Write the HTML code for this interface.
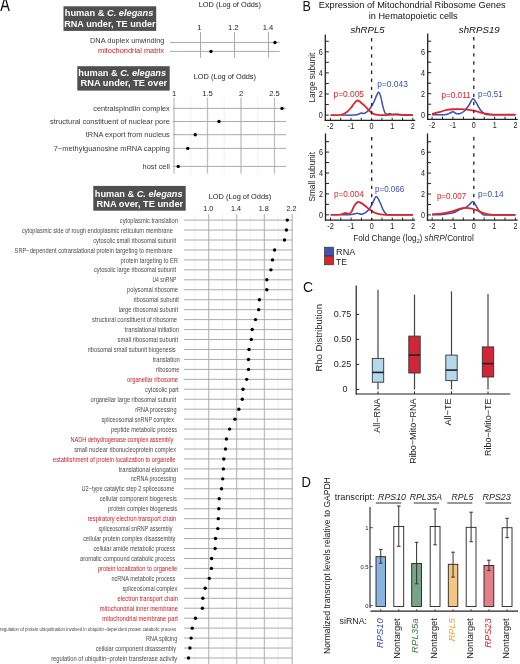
<!DOCTYPE html><html><head><meta charset="utf-8"><style>html,body{margin:0;padding:0;background:#fff;width:520px;height:664px;overflow:hidden}svg{display:block;will-change:transform;filter:blur(0.35px)}</style></head><body>
<svg width="520" height="664" viewBox="0 0 520 664" font-family='"Liberation Sans", sans-serif'>
<rect x="0" y="0" width="520" height="664" fill="#fff"/>
<text x="0.20" y="10.70" font-size="19.5" fill="#111" textLength="9.60" lengthAdjust="spacingAndGlyphs">A</text>
<rect x="63.50" y="6.30" width="92.70" height="24.60" fill="#4f4f4f" stroke="none" stroke-width="1"/>
<text x="64.80" y="15.90" font-size="9.26" fill="#fff" font-weight="bold" textLength="88.50" lengthAdjust="spacingAndGlyphs">human &amp; <tspan font-style="italic">C. elegans</tspan></text>
<text x="64.20" y="26.50" font-size="9.12" fill="#fff" font-weight="bold" textLength="91.40" lengthAdjust="spacingAndGlyphs">RNA under, TE under</text>
<rect x="77.30" y="66.20" width="92.40" height="24.40" fill="#4f4f4f" stroke="none" stroke-width="1"/>
<text x="78.30" y="75.75" font-size="9.19" fill="#fff" font-weight="bold" textLength="87.80" lengthAdjust="spacingAndGlyphs">human &amp; <tspan font-style="italic">C. elegans</tspan></text>
<text x="80.50" y="86.30" font-size="9.27" fill="#fff" font-weight="bold" textLength="86.70" lengthAdjust="spacingAndGlyphs">RNA under, TE over</text>
<rect x="93.30" y="185.90" width="92.40" height="24.80" fill="#4f4f4f" stroke="none" stroke-width="1"/>
<text x="94.80" y="196.50" font-size="9.19" fill="#fff" font-weight="bold" textLength="87.80" lengthAdjust="spacingAndGlyphs">human &amp; <tspan font-style="italic">C. elegans</tspan></text>
<text x="96.50" y="206.90" font-size="9.27" fill="#fff" font-weight="bold" textLength="86.70" lengthAdjust="spacingAndGlyphs">RNA over, TE under</text>
<text x="198.75" y="6.60" font-size="7.37" fill="#222" textLength="62.25" lengthAdjust="spacingAndGlyphs">LOD (Log of Odds)</text>
<text x="199.30" y="29.50" font-size="7.6" fill="#222" text-anchor="middle">1</text>
<text x="233.20" y="29.50" font-size="7.6" fill="#222" text-anchor="middle">1.2</text>
<text x="268.00" y="29.50" font-size="7.6" fill="#222" text-anchor="middle">1.4</text>
<line x1="200.50" y1="32.00" x2="200.50" y2="57.70" stroke="#ababab" stroke-width="1"/>
<line x1="234.50" y1="32.00" x2="234.50" y2="57.70" stroke="#ababab" stroke-width="1"/>
<line x1="268.50" y1="32.00" x2="268.50" y2="57.70" stroke="#ababab" stroke-width="1"/>
<line x1="170.00" y1="42.50" x2="279.50" y2="42.50" stroke="#ababab" stroke-width="1"/>
<line x1="170.00" y1="51.40" x2="279.50" y2="51.40" stroke="#ababab" stroke-width="1"/>
<text x="164.50" y="43.30" font-size="7.4" fill="#3a3a3a" text-anchor="end" textLength="74.50" lengthAdjust="spacingAndGlyphs">DNA duplex unwinding</text>
<text x="164.00" y="53.40" font-size="7.38" fill="#c8202a" text-anchor="end" textLength="66.00" lengthAdjust="spacingAndGlyphs">mitochondrial matrix</text>
<circle cx="275.00" cy="42.50" r="1.7" fill="#000"/>
<circle cx="211.00" cy="51.40" r="1.7" fill="#000"/>
<text x="193.75" y="79.20" font-size="7.37" fill="#222" textLength="62.25" lengthAdjust="spacingAndGlyphs">LOD (Log of Odds)</text>
<text x="174.00" y="95.50" font-size="7.6" fill="#222" text-anchor="middle">1</text>
<text x="207.50" y="95.50" font-size="7.6" fill="#222" text-anchor="middle">1.5</text>
<text x="241.00" y="95.50" font-size="7.6" fill="#222" text-anchor="middle">2</text>
<text x="274.50" y="95.50" font-size="7.6" fill="#222" text-anchor="middle">2.5</text>
<line x1="190.80" y1="97.50" x2="190.80" y2="173.80" stroke="#f2f2f2" stroke-width="1"/>
<line x1="224.20" y1="97.50" x2="224.20" y2="173.80" stroke="#f2f2f2" stroke-width="1"/>
<line x1="257.70" y1="97.50" x2="257.70" y2="173.80" stroke="#f2f2f2" stroke-width="1"/>
<line x1="174.00" y1="97.50" x2="174.00" y2="173.80" stroke="#bfbfbf" stroke-width="1.3"/>
<line x1="207.50" y1="97.50" x2="207.50" y2="173.80" stroke="#bfbfbf" stroke-width="1.3"/>
<line x1="241.00" y1="97.50" x2="241.00" y2="173.80" stroke="#bfbfbf" stroke-width="1.3"/>
<line x1="274.50" y1="97.50" x2="274.50" y2="173.80" stroke="#bfbfbf" stroke-width="1.3"/>
<line x1="172.70" y1="108.40" x2="286.00" y2="108.40" stroke="#ababab" stroke-width="1"/>
<line x1="172.70" y1="121.50" x2="286.00" y2="121.50" stroke="#ababab" stroke-width="1"/>
<line x1="172.70" y1="134.70" x2="286.00" y2="134.70" stroke="#ababab" stroke-width="1"/>
<line x1="172.70" y1="148.40" x2="286.00" y2="148.40" stroke="#ababab" stroke-width="1"/>
<line x1="172.70" y1="166.40" x2="286.00" y2="166.40" stroke="#ababab" stroke-width="1"/>
<text x="169.80" y="110.80" font-size="7.37" fill="#3a3a3a" text-anchor="end" textLength="76.55" lengthAdjust="spacingAndGlyphs">centralspindlin complex</text>
<circle cx="282.00" cy="108.40" r="1.7" fill="#000"/>
<text x="169.80" y="123.90" font-size="7.41" fill="#3a3a3a" text-anchor="end" textLength="119.80" lengthAdjust="spacingAndGlyphs">structural constituent of nuclear pore</text>
<circle cx="219.00" cy="121.50" r="1.7" fill="#000"/>
<text x="169.80" y="137.10" font-size="7.38" fill="#3a3a3a" text-anchor="end" textLength="84.05" lengthAdjust="spacingAndGlyphs">tRNA export from nucleus</text>
<circle cx="195.25" cy="134.70" r="1.7" fill="#000"/>
<text x="169.80" y="150.80" font-size="7.42" fill="#3a3a3a" text-anchor="end" textLength="116.05" lengthAdjust="spacingAndGlyphs">7−methylguanosine mRNA capping</text>
<circle cx="187.75" cy="148.40" r="1.7" fill="#000"/>
<text x="169.80" y="168.80" font-size="7.44" fill="#3a3a3a" text-anchor="end" textLength="27.30" lengthAdjust="spacingAndGlyphs">host cell</text>
<circle cx="178.25" cy="166.40" r="1.7" fill="#000"/>
<text x="208.75" y="199.20" font-size="7.4" fill="#222" textLength="62.50" lengthAdjust="spacingAndGlyphs">LOD (Log of Odds)</text>
<text x="208.20" y="211.00" font-size="7.2" fill="#222" text-anchor="middle">1.0</text>
<text x="236.10" y="211.00" font-size="7.2" fill="#222" text-anchor="middle">1.4</text>
<text x="263.80" y="211.00" font-size="7.2" fill="#222" text-anchor="middle">1.8</text>
<text x="291.50" y="211.00" font-size="7.2" fill="#222" text-anchor="middle">2.2</text>
<line x1="194.80" y1="214.00" x2="194.80" y2="664.00" stroke="#f2f2f2" stroke-width="1"/>
<line x1="222.60" y1="214.00" x2="222.60" y2="664.00" stroke="#f2f2f2" stroke-width="1"/>
<line x1="250.50" y1="214.00" x2="250.50" y2="664.00" stroke="#f2f2f2" stroke-width="1"/>
<line x1="278.30" y1="214.00" x2="278.30" y2="664.00" stroke="#f2f2f2" stroke-width="1"/>
<line x1="208.70" y1="214.00" x2="208.70" y2="664.00" stroke="#bfbfbf" stroke-width="1.3"/>
<line x1="236.60" y1="214.00" x2="236.60" y2="664.00" stroke="#bfbfbf" stroke-width="1.3"/>
<line x1="264.40" y1="214.00" x2="264.40" y2="664.00" stroke="#bfbfbf" stroke-width="1.3"/>
<line x1="292.20" y1="214.00" x2="292.20" y2="664.00" stroke="#bfbfbf" stroke-width="1.3"/>
<line x1="184.00" y1="220.10" x2="292.50" y2="220.10" stroke="#ababab" stroke-width="1"/>
<line x1="184.00" y1="230.05" x2="292.50" y2="230.05" stroke="#ababab" stroke-width="1"/>
<line x1="184.00" y1="240.00" x2="292.50" y2="240.00" stroke="#ababab" stroke-width="1"/>
<line x1="184.00" y1="249.96" x2="292.50" y2="249.96" stroke="#ababab" stroke-width="1"/>
<line x1="184.00" y1="259.91" x2="292.50" y2="259.91" stroke="#ababab" stroke-width="1"/>
<line x1="184.00" y1="269.86" x2="292.50" y2="269.86" stroke="#ababab" stroke-width="1"/>
<line x1="184.00" y1="279.81" x2="292.50" y2="279.81" stroke="#ababab" stroke-width="1"/>
<line x1="184.00" y1="289.76" x2="292.50" y2="289.76" stroke="#ababab" stroke-width="1"/>
<line x1="184.00" y1="299.72" x2="292.50" y2="299.72" stroke="#ababab" stroke-width="1"/>
<line x1="184.00" y1="309.67" x2="292.50" y2="309.67" stroke="#ababab" stroke-width="1"/>
<line x1="184.00" y1="319.62" x2="292.50" y2="319.62" stroke="#ababab" stroke-width="1"/>
<line x1="184.00" y1="329.57" x2="292.50" y2="329.57" stroke="#ababab" stroke-width="1"/>
<line x1="184.00" y1="339.52" x2="292.50" y2="339.52" stroke="#ababab" stroke-width="1"/>
<line x1="184.00" y1="349.48" x2="292.50" y2="349.48" stroke="#ababab" stroke-width="1"/>
<line x1="184.00" y1="359.43" x2="292.50" y2="359.43" stroke="#ababab" stroke-width="1"/>
<line x1="184.00" y1="369.38" x2="292.50" y2="369.38" stroke="#ababab" stroke-width="1"/>
<line x1="184.00" y1="379.33" x2="292.50" y2="379.33" stroke="#ababab" stroke-width="1"/>
<line x1="184.00" y1="389.28" x2="292.50" y2="389.28" stroke="#ababab" stroke-width="1"/>
<line x1="184.00" y1="399.24" x2="292.50" y2="399.24" stroke="#ababab" stroke-width="1"/>
<line x1="184.00" y1="409.19" x2="292.50" y2="409.19" stroke="#ababab" stroke-width="1"/>
<line x1="184.00" y1="419.14" x2="292.50" y2="419.14" stroke="#ababab" stroke-width="1"/>
<line x1="184.00" y1="429.09" x2="292.50" y2="429.09" stroke="#ababab" stroke-width="1"/>
<line x1="184.00" y1="439.04" x2="292.50" y2="439.04" stroke="#ababab" stroke-width="1"/>
<line x1="184.00" y1="449.00" x2="292.50" y2="449.00" stroke="#ababab" stroke-width="1"/>
<line x1="184.00" y1="458.95" x2="292.50" y2="458.95" stroke="#ababab" stroke-width="1"/>
<line x1="184.00" y1="468.90" x2="292.50" y2="468.90" stroke="#ababab" stroke-width="1"/>
<line x1="184.00" y1="478.85" x2="292.50" y2="478.85" stroke="#ababab" stroke-width="1"/>
<line x1="184.00" y1="488.80" x2="292.50" y2="488.80" stroke="#ababab" stroke-width="1"/>
<line x1="184.00" y1="498.76" x2="292.50" y2="498.76" stroke="#ababab" stroke-width="1"/>
<line x1="184.00" y1="508.71" x2="292.50" y2="508.71" stroke="#ababab" stroke-width="1"/>
<line x1="184.00" y1="518.66" x2="292.50" y2="518.66" stroke="#ababab" stroke-width="1"/>
<line x1="184.00" y1="528.61" x2="292.50" y2="528.61" stroke="#ababab" stroke-width="1"/>
<line x1="184.00" y1="538.56" x2="292.50" y2="538.56" stroke="#ababab" stroke-width="1"/>
<line x1="184.00" y1="548.52" x2="292.50" y2="548.52" stroke="#ababab" stroke-width="1"/>
<line x1="184.00" y1="558.47" x2="292.50" y2="558.47" stroke="#ababab" stroke-width="1"/>
<line x1="184.00" y1="568.42" x2="292.50" y2="568.42" stroke="#ababab" stroke-width="1"/>
<line x1="184.00" y1="578.37" x2="292.50" y2="578.37" stroke="#ababab" stroke-width="1"/>
<line x1="184.00" y1="588.32" x2="292.50" y2="588.32" stroke="#ababab" stroke-width="1"/>
<line x1="184.00" y1="598.28" x2="292.50" y2="598.28" stroke="#ababab" stroke-width="1"/>
<line x1="184.00" y1="608.23" x2="292.50" y2="608.23" stroke="#ababab" stroke-width="1"/>
<line x1="184.00" y1="618.18" x2="292.50" y2="618.18" stroke="#ababab" stroke-width="1"/>
<line x1="184.00" y1="628.13" x2="292.50" y2="628.13" stroke="#ababab" stroke-width="1"/>
<line x1="184.00" y1="638.08" x2="292.50" y2="638.08" stroke="#ababab" stroke-width="1"/>
<line x1="184.00" y1="648.04" x2="292.50" y2="648.04" stroke="#ababab" stroke-width="1"/>
<line x1="184.00" y1="657.99" x2="292.50" y2="657.99" stroke="#ababab" stroke-width="1"/>
<text x="178.00" y="222.70" font-size="6.6" fill="#4a4a4a" text-anchor="end" textLength="58.20" lengthAdjust="spacingAndGlyphs">cytoplasmic translation</text>
<circle cx="287.30" cy="220.10" r="1.7" fill="#000"/>
<text x="172.80" y="232.65" font-size="6.6" fill="#4a4a4a" text-anchor="end" textLength="150.90" lengthAdjust="spacingAndGlyphs">cytoplasmic side of rough endoplasmic reticulum membrane</text>
<circle cx="286.40" cy="230.05" r="1.7" fill="#000"/>
<text x="176.00" y="242.60" font-size="6.6" fill="#4a4a4a" text-anchor="end" textLength="82.80" lengthAdjust="spacingAndGlyphs">cytosolic small ribosomal subunit</text>
<circle cx="284.50" cy="240.00" r="1.7" fill="#000"/>
<text x="172.80" y="252.56" font-size="6.6" fill="#4a4a4a" text-anchor="end" textLength="158.20" lengthAdjust="spacingAndGlyphs">SRP−dependent cotranslational protein targeting to membrane</text>
<circle cx="274.60" cy="249.96" r="1.7" fill="#000"/>
<text x="178.00" y="262.51" font-size="6.6" fill="#4a4a4a" text-anchor="end" textLength="57.40" lengthAdjust="spacingAndGlyphs">protein targeting to ER</text>
<circle cx="272.50" cy="259.91" r="1.7" fill="#000"/>
<text x="176.00" y="272.46" font-size="6.6" fill="#4a4a4a" text-anchor="end" textLength="82.10" lengthAdjust="spacingAndGlyphs">cytosolic large ribosomal subunit</text>
<circle cx="270.90" cy="269.86" r="1.7" fill="#000"/>
<text x="176.50" y="282.41" font-size="6.6" fill="#4a4a4a" text-anchor="end" textLength="24.10" lengthAdjust="spacingAndGlyphs">U4 snRNP</text>
<circle cx="266.80" cy="279.81" r="1.7" fill="#000"/>
<text x="178.00" y="292.36" font-size="6.6" fill="#4a4a4a" text-anchor="end" textLength="50.90" lengthAdjust="spacingAndGlyphs">polysomal ribosome</text>
<circle cx="266.80" cy="289.76" r="1.7" fill="#000"/>
<text x="179.00" y="302.32" font-size="6.6" fill="#4a4a4a" text-anchor="end" textLength="45.60" lengthAdjust="spacingAndGlyphs">ribosomal subunit</text>
<circle cx="259.40" cy="299.72" r="1.7" fill="#000"/>
<text x="178.00" y="312.27" font-size="6.6" fill="#4a4a4a" text-anchor="end" textLength="59.30" lengthAdjust="spacingAndGlyphs">large ribosomal subunit</text>
<circle cx="258.70" cy="309.67" r="1.7" fill="#000"/>
<text x="177.00" y="322.22" font-size="6.6" fill="#4a4a4a" text-anchor="end" textLength="85.00" lengthAdjust="spacingAndGlyphs">structural constituent of ribosome</text>
<circle cx="255.50" cy="319.62" r="1.7" fill="#000"/>
<text x="179.00" y="332.17" font-size="6.6" fill="#4a4a4a" text-anchor="end" textLength="54.40" lengthAdjust="spacingAndGlyphs">translational initiation</text>
<circle cx="252.20" cy="329.57" r="1.7" fill="#000"/>
<text x="178.00" y="342.12" font-size="6.6" fill="#4a4a4a" text-anchor="end" textLength="60.40" lengthAdjust="spacingAndGlyphs">small ribosomal subunit</text>
<circle cx="251.30" cy="339.52" r="1.7" fill="#000"/>
<text x="175.70" y="352.08" font-size="6.6" fill="#4a4a4a" text-anchor="end" textLength="88.00" lengthAdjust="spacingAndGlyphs">ribosomal small subunit biogenesis</text>
<circle cx="249.00" cy="349.48" r="1.7" fill="#000"/>
<text x="179.80" y="362.03" font-size="6.6" fill="#4a4a4a" text-anchor="end" textLength="27.10" lengthAdjust="spacingAndGlyphs">translation</text>
<circle cx="248.50" cy="359.43" r="1.7" fill="#000"/>
<text x="179.40" y="371.98" font-size="6.6" fill="#4a4a4a" text-anchor="end" textLength="23.40" lengthAdjust="spacingAndGlyphs">ribosome</text>
<circle cx="248.50" cy="369.38" r="1.7" fill="#000"/>
<text x="178.00" y="381.93" font-size="6.6" fill="#c8202a" text-anchor="end" textLength="50.90" lengthAdjust="spacingAndGlyphs">organellar ribosome</text>
<circle cx="246.70" cy="379.33" r="1.7" fill="#000"/>
<text x="178.70" y="391.88" font-size="6.6" fill="#4a4a4a" text-anchor="end" textLength="33.70" lengthAdjust="spacingAndGlyphs">cytosolic part</text>
<circle cx="243.00" cy="389.28" r="1.7" fill="#000"/>
<text x="176.10" y="401.84" font-size="6.6" fill="#4a4a4a" text-anchor="end" textLength="85.50" lengthAdjust="spacingAndGlyphs">organellar large ribosomal subunit</text>
<circle cx="242.30" cy="399.24" r="1.7" fill="#000"/>
<text x="176.50" y="411.79" font-size="6.6" fill="#4a4a4a" text-anchor="end" textLength="41.30" lengthAdjust="spacingAndGlyphs">rRNA processing</text>
<circle cx="238.80" cy="409.19" r="1.7" fill="#000"/>
<text x="173.90" y="421.74" font-size="6.6" fill="#4a4a4a" text-anchor="end" textLength="72.30" lengthAdjust="spacingAndGlyphs">spliceosomal snRNP complex</text>
<circle cx="234.90" cy="419.14" r="1.7" fill="#000"/>
<text x="177.20" y="431.69" font-size="6.6" fill="#4a4a4a" text-anchor="end" textLength="66.20" lengthAdjust="spacingAndGlyphs">peptide metabolic process</text>
<circle cx="229.60" cy="429.09" r="1.7" fill="#000"/>
<text x="173.20" y="441.64" font-size="6.6" fill="#c8202a" text-anchor="end" textLength="102.70" lengthAdjust="spacingAndGlyphs">NADH dehydrogenase complex assembly</text>
<circle cx="226.40" cy="439.04" r="1.7" fill="#000"/>
<text x="176.10" y="451.60" font-size="6.6" fill="#4a4a4a" text-anchor="end" textLength="101.90" lengthAdjust="spacingAndGlyphs">small nuclear ribonucleoprotein complex</text>
<circle cx="225.50" cy="449.00" r="1.7" fill="#000"/>
<text x="175.40" y="461.55" font-size="6.6" fill="#c8202a" text-anchor="end" textLength="122.40" lengthAdjust="spacingAndGlyphs">establishment of protein localization to organelle</text>
<circle cx="223.80" cy="458.95" r="1.7" fill="#000"/>
<text x="178.30" y="471.50" font-size="6.6" fill="#4a4a4a" text-anchor="end" textLength="59.60" lengthAdjust="spacingAndGlyphs">translational elongation</text>
<circle cx="223.40" cy="468.90" r="1.7" fill="#000"/>
<text x="176.10" y="481.45" font-size="6.6" fill="#4a4a4a" text-anchor="end" textLength="45.30" lengthAdjust="spacingAndGlyphs">ncRNA processing</text>
<circle cx="222.70" cy="478.85" r="1.7" fill="#000"/>
<text x="174.30" y="491.40" font-size="6.6" fill="#4a4a4a" text-anchor="end" textLength="92.80" lengthAdjust="spacingAndGlyphs">U2−type catalytic step 2 spliceosome</text>
<circle cx="221.50" cy="488.80" r="1.7" fill="#000"/>
<text x="176.80" y="501.36" font-size="6.6" fill="#4a4a4a" text-anchor="end" textLength="77.10" lengthAdjust="spacingAndGlyphs">cellular component biogenesis</text>
<circle cx="219.20" cy="498.76" r="1.7" fill="#000"/>
<text x="177.20" y="511.31" font-size="6.6" fill="#4a4a4a" text-anchor="end" textLength="69.10" lengthAdjust="spacingAndGlyphs">protein complex biogenesis</text>
<circle cx="218.80" cy="508.71" r="1.7" fill="#000"/>
<text x="176.10" y="521.26" font-size="6.6" fill="#c8202a" text-anchor="end" textLength="88.40" lengthAdjust="spacingAndGlyphs">respiratory electron transport chain</text>
<circle cx="218.30" cy="518.66" r="1.7" fill="#000"/>
<text x="172.50" y="531.21" font-size="6.6" fill="#4a4a4a" text-anchor="end" textLength="73.90" lengthAdjust="spacingAndGlyphs">spliceosomal snRNP assembly</text>
<circle cx="217.80" cy="528.61" r="1.7" fill="#000"/>
<text x="175.40" y="541.16" font-size="6.6" fill="#4a4a4a" text-anchor="end" textLength="92.10" lengthAdjust="spacingAndGlyphs">cellular protein complex disassembly</text>
<circle cx="215.50" cy="538.56" r="1.7" fill="#000"/>
<text x="175.40" y="551.12" font-size="6.6" fill="#4a4a4a" text-anchor="end" textLength="81.90" lengthAdjust="spacingAndGlyphs">cellular amide metabolic process</text>
<circle cx="215.10" cy="548.52" r="1.7" fill="#000"/>
<text x="175.00" y="561.07" font-size="6.6" fill="#4a4a4a" text-anchor="end" textLength="95.00" lengthAdjust="spacingAndGlyphs">aromatic compound catabolic process</text>
<circle cx="211.60" cy="558.47" r="1.7" fill="#000"/>
<text x="177.20" y="571.02" font-size="6.6" fill="#c8202a" text-anchor="end" textLength="79.30" lengthAdjust="spacingAndGlyphs">protein localization to organelle</text>
<circle cx="211.40" cy="568.42" r="1.7" fill="#000"/>
<text x="175.40" y="580.97" font-size="6.6" fill="#4a4a4a" text-anchor="end" textLength="64.00" lengthAdjust="spacingAndGlyphs">ncRNA metabolic process</text>
<circle cx="209.30" cy="578.37" r="1.7" fill="#000"/>
<text x="177.20" y="590.92" font-size="6.6" fill="#4a4a4a" text-anchor="end" textLength="54.80" lengthAdjust="spacingAndGlyphs">spliceosomal complex</text>
<circle cx="205.20" cy="588.32" r="1.7" fill="#000"/>
<text x="178.00" y="600.88" font-size="6.6" fill="#c8202a" text-anchor="end" textLength="60.40" lengthAdjust="spacingAndGlyphs">electron transport chain</text>
<circle cx="202.80" cy="598.28" r="1.7" fill="#000"/>
<text x="178.00" y="610.83" font-size="6.6" fill="#c8202a" text-anchor="end" textLength="78.30" lengthAdjust="spacingAndGlyphs">mitochondrial inner membrane</text>
<circle cx="202.40" cy="608.23" r="1.7" fill="#000"/>
<text x="178.00" y="620.78" font-size="6.6" fill="#c8202a" text-anchor="end" textLength="75.70" lengthAdjust="spacingAndGlyphs">mitochondrial membrane part</text>
<circle cx="195.50" cy="618.18" r="1.7" fill="#000"/>
<text x="176.10" y="630.73" font-size="5.0" fill="#4a4a4a" text-anchor="end" textLength="176.10" lengthAdjust="spacingAndGlyphs">regulation of protein ubiquitination involved in ubiquitin−dependent protein catabolic process</text>
<circle cx="192.20" cy="628.13" r="1.7" fill="#000"/>
<text x="177.20" y="640.68" font-size="6.6" fill="#4a4a4a" text-anchor="end" textLength="31.10" lengthAdjust="spacingAndGlyphs">RNA splicing</text>
<circle cx="191.10" cy="638.08" r="1.7" fill="#000"/>
<text x="176.10" y="650.64" font-size="6.6" fill="#4a4a4a" text-anchor="end" textLength="80.40" lengthAdjust="spacingAndGlyphs">cellular component disassembly</text>
<circle cx="189.90" cy="648.04" r="1.7" fill="#000"/>
<text x="177.20" y="660.59" font-size="6.6" fill="#4a4a4a" text-anchor="end" textLength="126.00" lengthAdjust="spacingAndGlyphs">regulation of ubiquitin−protein transferase activity</text>
<circle cx="188.50" cy="657.99" r="1.7" fill="#000"/>
<text x="302.40" y="10.70" font-size="15.0" fill="#111" textLength="8.40" lengthAdjust="spacingAndGlyphs">B</text>
<text x="318.80" y="8.20" font-size="9.58" fill="#111" textLength="186.90" lengthAdjust="spacingAndGlyphs">Expression of Mitochondrial Ribosome Genes</text>
<text x="368.80" y="19.30" font-size="9.51" fill="#111" textLength="88.90" lengthAdjust="spacingAndGlyphs">in Hematopoietic cells</text>
<text x="350.50" y="33.30" font-size="9.4" fill="#111" font-style="italic" textLength="34.10" lengthAdjust="spacingAndGlyphs">shRPL5</text>
<text x="458.80" y="33.30" font-size="9.4" fill="#111" font-style="italic" textLength="40.90" lengthAdjust="spacingAndGlyphs">shRPS19</text>
<path d="M340.70,115.10 C342.76,115.10 350.14,115.24 353.06,115.10 C355.98,114.96 356.84,114.61 358.21,114.26 C359.58,113.90 360.44,113.11 361.30,112.99 C362.16,112.87 362.67,113.52 363.36,113.52 C364.05,113.52 364.39,113.69 365.42,112.99 C366.45,112.29 368.17,111.06 369.54,109.30 C370.91,107.54 372.46,104.81 373.66,102.44 C374.86,100.07 375.89,96.73 376.75,95.05 C377.61,93.38 378.12,92.07 378.81,92.42 C379.50,92.77 380.18,94.79 380.87,97.16 C381.56,99.54 382.24,104.02 382.93,106.66 C383.62,109.30 384.30,111.72 384.99,112.99 C385.68,114.26 386.26,114.17 387.05,114.26 C387.84,114.34 388.87,113.46 389.73,113.52 C390.59,113.57 390.76,114.36 392.20,114.57 C393.64,114.78 394.95,114.70 398.38,114.78 C401.81,114.87 410.40,115.05 412.80,115.10" fill="none" stroke="#3a4fb0" stroke-width="1.5" stroke-linejoin="round"/>
<path d="M330.40,115.10 C331.77,115.10 336.58,115.24 338.64,115.10 C340.70,114.96 341.39,114.78 342.76,114.26 C344.13,113.73 345.51,113.03 346.88,111.93 C348.25,110.84 349.80,109.12 351.00,107.71 C352.20,106.31 353.06,104.69 354.09,103.49 C355.12,102.30 356.15,100.80 357.18,100.54 C358.21,100.28 359.07,101.07 360.27,101.91 C361.47,102.76 363.02,104.29 364.39,105.60 C365.76,106.92 367.14,108.51 368.51,109.82 C369.88,111.14 371.08,112.67 372.63,113.52 C374.18,114.36 375.55,114.63 377.78,114.89 C380.01,115.15 383.62,115.14 386.02,115.10 C388.42,115.06 390.48,114.85 392.20,114.68 C393.92,114.50 394.95,114.04 396.32,114.04 C397.69,114.04 398.72,114.50 400.44,114.68 C402.16,114.85 404.56,115.03 406.62,115.10 C408.68,115.17 411.77,115.10 412.80,115.10" fill="none" stroke="#d8262e" stroke-width="1.8" stroke-linejoin="round"/>
<line x1="371.60" y1="38.10" x2="371.60" y2="120.40" stroke="#222" stroke-width="1.3" stroke-dasharray="3.4,4.7"/>
<line x1="325.30" y1="34.50" x2="325.30" y2="121.00" stroke="#222" stroke-width="1.3"/>
<line x1="324.70" y1="120.40" x2="415.20" y2="120.40" stroke="#222" stroke-width="1.3"/>
<line x1="325.30" y1="115.10" x2="328.80" y2="115.10" stroke="#222" stroke-width="1"/>
<line x1="325.30" y1="104.55" x2="328.80" y2="104.55" stroke="#222" stroke-width="1"/>
<line x1="325.30" y1="94.00" x2="328.80" y2="94.00" stroke="#222" stroke-width="1"/>
<line x1="325.30" y1="83.45" x2="328.80" y2="83.45" stroke="#222" stroke-width="1"/>
<line x1="325.30" y1="72.90" x2="328.80" y2="72.90" stroke="#222" stroke-width="1"/>
<line x1="325.30" y1="62.35" x2="328.80" y2="62.35" stroke="#222" stroke-width="1"/>
<line x1="325.30" y1="51.80" x2="328.80" y2="51.80" stroke="#222" stroke-width="1"/>
<line x1="325.30" y1="41.25" x2="328.80" y2="41.25" stroke="#222" stroke-width="1"/>
<text x="322.70" y="118.20" font-size="8.6" fill="#222" text-anchor="end" textLength="4.00" lengthAdjust="spacingAndGlyphs">0</text>
<text x="322.70" y="97.10" font-size="8.6" fill="#222" text-anchor="end" textLength="4.00" lengthAdjust="spacingAndGlyphs">2</text>
<text x="322.70" y="76.00" font-size="8.6" fill="#222" text-anchor="end" textLength="4.00" lengthAdjust="spacingAndGlyphs">4</text>
<text x="322.70" y="54.90" font-size="8.6" fill="#222" text-anchor="end" textLength="4.00" lengthAdjust="spacingAndGlyphs">6</text>
<line x1="330.40" y1="120.40" x2="330.40" y2="117.80" stroke="#222" stroke-width="1"/>
<line x1="340.70" y1="120.40" x2="340.70" y2="117.80" stroke="#222" stroke-width="1"/>
<line x1="351.00" y1="120.40" x2="351.00" y2="117.80" stroke="#222" stroke-width="1"/>
<line x1="361.30" y1="120.40" x2="361.30" y2="117.80" stroke="#222" stroke-width="1"/>
<line x1="371.60" y1="120.40" x2="371.60" y2="117.80" stroke="#222" stroke-width="1"/>
<line x1="381.90" y1="120.40" x2="381.90" y2="117.80" stroke="#222" stroke-width="1"/>
<line x1="392.20" y1="120.40" x2="392.20" y2="117.80" stroke="#222" stroke-width="1"/>
<line x1="402.50" y1="120.40" x2="402.50" y2="117.80" stroke="#222" stroke-width="1"/>
<line x1="412.80" y1="120.40" x2="412.80" y2="117.80" stroke="#222" stroke-width="1"/>
<text x="330.40" y="129.00" font-size="8.6" fill="#222" text-anchor="middle" textLength="6.60" lengthAdjust="spacingAndGlyphs">-2</text>
<text x="351.00" y="129.00" font-size="8.6" fill="#222" text-anchor="middle" textLength="6.60" lengthAdjust="spacingAndGlyphs">-1</text>
<text x="371.60" y="129.00" font-size="8.6" fill="#222" text-anchor="middle" textLength="4.00" lengthAdjust="spacingAndGlyphs">0</text>
<text x="392.20" y="129.00" font-size="8.6" fill="#222" text-anchor="middle" textLength="4.00" lengthAdjust="spacingAndGlyphs">1</text>
<text x="412.80" y="129.00" font-size="8.6" fill="#222" text-anchor="middle" textLength="4.00" lengthAdjust="spacingAndGlyphs">2</text>
<text x="333.50" y="97.30" font-size="8.96" fill="#d8262e" textLength="30.50" lengthAdjust="spacingAndGlyphs">p=0.005</text>
<text x="377.30" y="87.00" font-size="8.96" fill="#3a4fb0" textLength="30.50" lengthAdjust="spacingAndGlyphs">p=0.043</text>
<path d="M432.10,114.70 C434.19,114.70 441.83,114.88 444.61,114.70 C447.39,114.53 447.39,114.14 448.78,113.65 C450.17,113.16 451.73,111.80 452.95,111.76 C454.17,111.73 454.86,113.16 456.08,113.44 C457.29,113.72 458.86,113.84 460.25,113.44 C461.64,113.04 463.03,112.30 464.42,111.03 C465.81,109.75 467.20,107.79 468.59,105.78 C469.98,103.76 471.54,99.56 472.76,98.95 C473.97,98.34 474.67,100.35 475.88,102.10 C477.10,103.85 478.67,107.53 480.06,109.45 C481.44,111.38 482.66,112.78 484.23,113.65 C485.79,114.53 484.23,114.53 489.44,114.70 C494.65,114.88 511.16,114.70 515.50,114.70" fill="none" stroke="#3a4fb0" stroke-width="1.5" stroke-linejoin="round"/>
<path d="M432.10,113.97 C433.49,113.60 438.01,112.43 440.44,111.76 C442.87,111.09 444.61,110.40 446.69,109.98 C448.78,109.56 450.52,109.38 452.95,109.24 C455.38,109.10 458.86,109.07 461.29,109.14 C463.72,109.20 465.46,109.40 467.55,109.66 C469.63,109.92 471.89,110.31 473.80,110.71 C475.71,111.11 477.27,111.62 479.01,112.08 C480.75,112.53 482.31,113.07 484.23,113.44 C486.14,113.81 488.05,114.09 490.48,114.28 C492.91,114.47 494.65,114.53 498.82,114.59 C502.99,114.66 512.72,114.68 515.50,114.70" fill="none" stroke="#d8262e" stroke-width="1.8" stroke-linejoin="round"/>
<line x1="473.80" y1="37.00" x2="473.80" y2="119.30" stroke="#222" stroke-width="1.3" stroke-dasharray="3.4,4.7"/>
<line x1="427.70" y1="33.40" x2="427.70" y2="119.90" stroke="#222" stroke-width="1.3"/>
<line x1="427.10" y1="119.30" x2="517.70" y2="119.30" stroke="#222" stroke-width="1.3"/>
<line x1="427.70" y1="114.70" x2="431.20" y2="114.70" stroke="#222" stroke-width="1"/>
<line x1="427.70" y1="104.20" x2="431.20" y2="104.20" stroke="#222" stroke-width="1"/>
<line x1="427.70" y1="93.70" x2="431.20" y2="93.70" stroke="#222" stroke-width="1"/>
<line x1="427.70" y1="83.20" x2="431.20" y2="83.20" stroke="#222" stroke-width="1"/>
<line x1="427.70" y1="72.70" x2="431.20" y2="72.70" stroke="#222" stroke-width="1"/>
<line x1="427.70" y1="62.20" x2="431.20" y2="62.20" stroke="#222" stroke-width="1"/>
<line x1="427.70" y1="51.70" x2="431.20" y2="51.70" stroke="#222" stroke-width="1"/>
<line x1="427.70" y1="41.20" x2="431.20" y2="41.20" stroke="#222" stroke-width="1"/>
<text x="425.10" y="117.80" font-size="8.6" fill="#222" text-anchor="end" textLength="4.00" lengthAdjust="spacingAndGlyphs">0</text>
<text x="425.10" y="96.80" font-size="8.6" fill="#222" text-anchor="end" textLength="4.00" lengthAdjust="spacingAndGlyphs">2</text>
<text x="425.10" y="75.80" font-size="8.6" fill="#222" text-anchor="end" textLength="4.00" lengthAdjust="spacingAndGlyphs">4</text>
<text x="425.10" y="54.80" font-size="8.6" fill="#222" text-anchor="end" textLength="4.00" lengthAdjust="spacingAndGlyphs">6</text>
<line x1="432.10" y1="119.30" x2="432.10" y2="116.70" stroke="#222" stroke-width="1"/>
<line x1="442.53" y1="119.30" x2="442.53" y2="116.70" stroke="#222" stroke-width="1"/>
<line x1="452.95" y1="119.30" x2="452.95" y2="116.70" stroke="#222" stroke-width="1"/>
<line x1="463.38" y1="119.30" x2="463.38" y2="116.70" stroke="#222" stroke-width="1"/>
<line x1="473.80" y1="119.30" x2="473.80" y2="116.70" stroke="#222" stroke-width="1"/>
<line x1="484.23" y1="119.30" x2="484.23" y2="116.70" stroke="#222" stroke-width="1"/>
<line x1="494.65" y1="119.30" x2="494.65" y2="116.70" stroke="#222" stroke-width="1"/>
<line x1="505.07" y1="119.30" x2="505.07" y2="116.70" stroke="#222" stroke-width="1"/>
<line x1="515.50" y1="119.30" x2="515.50" y2="116.70" stroke="#222" stroke-width="1"/>
<text x="432.10" y="127.90" font-size="8.6" fill="#222" text-anchor="middle" textLength="6.60" lengthAdjust="spacingAndGlyphs">-2</text>
<text x="452.95" y="127.90" font-size="8.6" fill="#222" text-anchor="middle" textLength="6.60" lengthAdjust="spacingAndGlyphs">-1</text>
<text x="473.80" y="127.90" font-size="8.6" fill="#222" text-anchor="middle" textLength="4.00" lengthAdjust="spacingAndGlyphs">0</text>
<text x="494.65" y="127.90" font-size="8.6" fill="#222" text-anchor="middle" textLength="4.00" lengthAdjust="spacingAndGlyphs">1</text>
<text x="515.50" y="127.90" font-size="8.6" fill="#222" text-anchor="middle" textLength="4.00" lengthAdjust="spacingAndGlyphs">2</text>
<text x="441.40" y="98.00" font-size="8.79" fill="#d8262e" textLength="29.30" lengthAdjust="spacingAndGlyphs">p=0.011</text>
<text x="478.00" y="97.00" font-size="8.53" fill="#3a4fb0" textLength="24.60" lengthAdjust="spacingAndGlyphs">p=0.51</text>
<path d="M340.80,214.80 C342.52,214.75 348.35,214.75 351.10,214.49 C353.85,214.23 355.56,213.27 357.28,213.23 C359.00,213.20 360.03,214.36 361.40,214.28 C362.77,214.19 364.15,213.67 365.52,212.71 C366.89,211.75 368.44,210.18 369.64,208.53 C370.84,206.88 371.63,204.79 372.73,202.78 C373.83,200.78 375.03,196.60 376.23,196.51 C377.43,196.43 378.77,200.00 379.94,202.26 C381.11,204.52 382.14,208.11 383.24,210.10 C384.33,212.08 385.43,213.39 386.53,214.17 C387.63,214.96 385.43,214.70 389.83,214.80 C394.22,214.90 409.05,214.80 412.90,214.80" fill="none" stroke="#3a4fb0" stroke-width="1.5" stroke-linejoin="round"/>
<path d="M330.50,214.80 C331.87,214.80 336.68,214.97 338.74,214.80 C340.80,214.63 341.76,214.05 342.86,213.76 C343.96,213.46 344.37,213.02 345.33,213.02 C346.29,213.02 347.60,213.98 348.63,213.76 C349.66,213.53 350.58,212.97 351.51,211.67 C352.44,210.36 353.16,207.52 354.19,205.92 C355.22,204.32 356.49,202.52 357.69,202.05 C358.89,201.58 360.10,202.40 361.40,203.10 C362.70,203.79 364.15,205.15 365.52,206.23 C366.89,207.31 368.27,208.58 369.64,209.58 C371.01,210.57 372.39,211.49 373.76,212.19 C375.13,212.88 376.33,213.35 377.88,213.76 C379.43,214.16 380.63,214.42 383.03,214.59 C385.43,214.77 387.32,214.77 392.30,214.80 C397.28,214.83 409.47,214.80 412.90,214.80" fill="none" stroke="#d8262e" stroke-width="1.8" stroke-linejoin="round"/>
<line x1="371.70" y1="137.10" x2="371.70" y2="220.20" stroke="#222" stroke-width="1.3" stroke-dasharray="3.4,4.7"/>
<line x1="325.50" y1="133.50" x2="325.50" y2="220.80" stroke="#222" stroke-width="1.3"/>
<line x1="324.90" y1="220.20" x2="415.20" y2="220.20" stroke="#222" stroke-width="1.3"/>
<line x1="325.50" y1="214.80" x2="329.00" y2="214.80" stroke="#222" stroke-width="1"/>
<line x1="325.50" y1="204.35" x2="329.00" y2="204.35" stroke="#222" stroke-width="1"/>
<line x1="325.50" y1="193.90" x2="329.00" y2="193.90" stroke="#222" stroke-width="1"/>
<line x1="325.50" y1="183.45" x2="329.00" y2="183.45" stroke="#222" stroke-width="1"/>
<line x1="325.50" y1="173.00" x2="329.00" y2="173.00" stroke="#222" stroke-width="1"/>
<line x1="325.50" y1="162.55" x2="329.00" y2="162.55" stroke="#222" stroke-width="1"/>
<line x1="325.50" y1="152.10" x2="329.00" y2="152.10" stroke="#222" stroke-width="1"/>
<line x1="325.50" y1="141.65" x2="329.00" y2="141.65" stroke="#222" stroke-width="1"/>
<text x="322.90" y="217.90" font-size="8.6" fill="#222" text-anchor="end" textLength="4.00" lengthAdjust="spacingAndGlyphs">0</text>
<text x="322.90" y="197.00" font-size="8.6" fill="#222" text-anchor="end" textLength="4.00" lengthAdjust="spacingAndGlyphs">2</text>
<text x="322.90" y="176.10" font-size="8.6" fill="#222" text-anchor="end" textLength="4.00" lengthAdjust="spacingAndGlyphs">4</text>
<text x="322.90" y="155.20" font-size="8.6" fill="#222" text-anchor="end" textLength="4.00" lengthAdjust="spacingAndGlyphs">6</text>
<line x1="330.50" y1="220.20" x2="330.50" y2="217.60" stroke="#222" stroke-width="1"/>
<line x1="340.80" y1="220.20" x2="340.80" y2="217.60" stroke="#222" stroke-width="1"/>
<line x1="351.10" y1="220.20" x2="351.10" y2="217.60" stroke="#222" stroke-width="1"/>
<line x1="361.40" y1="220.20" x2="361.40" y2="217.60" stroke="#222" stroke-width="1"/>
<line x1="371.70" y1="220.20" x2="371.70" y2="217.60" stroke="#222" stroke-width="1"/>
<line x1="382.00" y1="220.20" x2="382.00" y2="217.60" stroke="#222" stroke-width="1"/>
<line x1="392.30" y1="220.20" x2="392.30" y2="217.60" stroke="#222" stroke-width="1"/>
<line x1="402.60" y1="220.20" x2="402.60" y2="217.60" stroke="#222" stroke-width="1"/>
<line x1="412.90" y1="220.20" x2="412.90" y2="217.60" stroke="#222" stroke-width="1"/>
<text x="330.50" y="228.80" font-size="8.6" fill="#222" text-anchor="middle" textLength="6.60" lengthAdjust="spacingAndGlyphs">-2</text>
<text x="351.10" y="228.80" font-size="8.6" fill="#222" text-anchor="middle" textLength="6.60" lengthAdjust="spacingAndGlyphs">-1</text>
<text x="371.70" y="228.80" font-size="8.6" fill="#222" text-anchor="middle" textLength="4.00" lengthAdjust="spacingAndGlyphs">0</text>
<text x="392.30" y="228.80" font-size="8.6" fill="#222" text-anchor="middle" textLength="4.00" lengthAdjust="spacingAndGlyphs">1</text>
<text x="412.90" y="228.80" font-size="8.6" fill="#222" text-anchor="middle" textLength="4.00" lengthAdjust="spacingAndGlyphs">2</text>
<text x="333.90" y="197.00" font-size="8.75" fill="#d8262e" textLength="29.80" lengthAdjust="spacingAndGlyphs">p=0.004</text>
<text x="375.00" y="191.80" font-size="8.58" fill="#3a4fb0" textLength="29.20" lengthAdjust="spacingAndGlyphs">p=0.066</text>
<path d="M432.20,214.90 C433.93,214.81 439.13,214.73 442.60,214.38 C446.07,214.03 450.23,213.56 453.00,212.81 C455.77,212.06 457.16,210.75 459.24,209.88 C461.32,209.01 463.75,208.49 465.48,207.59 C467.21,206.68 468.43,205.46 469.64,204.45 C470.85,203.44 471.72,201.35 472.76,201.52 C473.80,201.70 474.84,203.96 475.88,205.50 C476.92,207.03 477.96,209.33 479.00,210.72 C480.04,212.11 480.91,213.16 482.12,213.86 C483.33,214.55 480.73,214.73 486.28,214.90 C491.83,215.07 510.55,214.90 515.40,214.90" fill="none" stroke="#3a4fb0" stroke-width="1.5" stroke-linejoin="round"/>
<path d="M432.20,214.27 C433.93,214.12 439.13,213.84 442.60,213.33 C446.07,212.83 450.23,211.99 453.00,211.24 C455.77,210.49 457.16,209.41 459.24,208.84 C461.32,208.26 463.40,207.83 465.48,207.79 C467.56,207.76 469.64,208.14 471.72,208.63 C473.80,209.12 475.88,209.94 477.96,210.72 C480.04,211.50 482.12,212.69 484.20,213.33 C486.28,213.98 488.36,214.33 490.44,214.59 C492.52,214.85 492.52,214.85 496.68,214.90 C500.84,214.95 512.28,214.90 515.40,214.90" fill="none" stroke="#d8262e" stroke-width="1.8" stroke-linejoin="round"/>
<line x1="473.80" y1="137.10" x2="473.80" y2="220.10" stroke="#222" stroke-width="1.3" stroke-dasharray="3.4,4.7"/>
<line x1="427.50" y1="133.50" x2="427.50" y2="220.70" stroke="#222" stroke-width="1.3"/>
<line x1="426.90" y1="220.10" x2="517.70" y2="220.10" stroke="#222" stroke-width="1.3"/>
<line x1="427.50" y1="214.90" x2="431.00" y2="214.90" stroke="#222" stroke-width="1"/>
<line x1="427.50" y1="204.45" x2="431.00" y2="204.45" stroke="#222" stroke-width="1"/>
<line x1="427.50" y1="194.00" x2="431.00" y2="194.00" stroke="#222" stroke-width="1"/>
<line x1="427.50" y1="183.55" x2="431.00" y2="183.55" stroke="#222" stroke-width="1"/>
<line x1="427.50" y1="173.10" x2="431.00" y2="173.10" stroke="#222" stroke-width="1"/>
<line x1="427.50" y1="162.65" x2="431.00" y2="162.65" stroke="#222" stroke-width="1"/>
<line x1="427.50" y1="152.20" x2="431.00" y2="152.20" stroke="#222" stroke-width="1"/>
<line x1="427.50" y1="141.75" x2="431.00" y2="141.75" stroke="#222" stroke-width="1"/>
<text x="424.90" y="218.00" font-size="8.6" fill="#222" text-anchor="end" textLength="4.00" lengthAdjust="spacingAndGlyphs">0</text>
<text x="424.90" y="197.10" font-size="8.6" fill="#222" text-anchor="end" textLength="4.00" lengthAdjust="spacingAndGlyphs">2</text>
<text x="424.90" y="176.20" font-size="8.6" fill="#222" text-anchor="end" textLength="4.00" lengthAdjust="spacingAndGlyphs">4</text>
<text x="424.90" y="155.30" font-size="8.6" fill="#222" text-anchor="end" textLength="4.00" lengthAdjust="spacingAndGlyphs">6</text>
<line x1="432.20" y1="220.10" x2="432.20" y2="217.50" stroke="#222" stroke-width="1"/>
<line x1="442.60" y1="220.10" x2="442.60" y2="217.50" stroke="#222" stroke-width="1"/>
<line x1="453.00" y1="220.10" x2="453.00" y2="217.50" stroke="#222" stroke-width="1"/>
<line x1="463.40" y1="220.10" x2="463.40" y2="217.50" stroke="#222" stroke-width="1"/>
<line x1="473.80" y1="220.10" x2="473.80" y2="217.50" stroke="#222" stroke-width="1"/>
<line x1="484.20" y1="220.10" x2="484.20" y2="217.50" stroke="#222" stroke-width="1"/>
<line x1="494.60" y1="220.10" x2="494.60" y2="217.50" stroke="#222" stroke-width="1"/>
<line x1="505.00" y1="220.10" x2="505.00" y2="217.50" stroke="#222" stroke-width="1"/>
<line x1="515.40" y1="220.10" x2="515.40" y2="217.50" stroke="#222" stroke-width="1"/>
<text x="432.20" y="228.70" font-size="8.6" fill="#222" text-anchor="middle" textLength="6.60" lengthAdjust="spacingAndGlyphs">-2</text>
<text x="453.00" y="228.70" font-size="8.6" fill="#222" text-anchor="middle" textLength="6.60" lengthAdjust="spacingAndGlyphs">-1</text>
<text x="473.80" y="228.70" font-size="8.6" fill="#222" text-anchor="middle" textLength="4.00" lengthAdjust="spacingAndGlyphs">0</text>
<text x="494.60" y="228.70" font-size="8.6" fill="#222" text-anchor="middle" textLength="4.00" lengthAdjust="spacingAndGlyphs">1</text>
<text x="515.40" y="228.70" font-size="8.6" fill="#222" text-anchor="middle" textLength="4.00" lengthAdjust="spacingAndGlyphs">2</text>
<text x="436.90" y="199.40" font-size="8.58" fill="#d8262e" textLength="29.20" lengthAdjust="spacingAndGlyphs">p=0.007</text>
<text x="478.00" y="197.00" font-size="8.88" fill="#3a4fb0" textLength="25.60" lengthAdjust="spacingAndGlyphs">p=0.14</text>
<text x="314.80" y="102.60" font-size="8.83" fill="#222" textLength="50.00" lengthAdjust="spacingAndGlyphs" transform="rotate(-90 314.8 102.6)">Large subunit</text>
<text x="315.30" y="201.50" font-size="8.82" fill="#222" textLength="49.50" lengthAdjust="spacingAndGlyphs" transform="rotate(-90 315.3 201.5)">Small subunit</text>
<text x="353.20" y="240.60" font-size="8.73" fill="#222" textLength="120.60" lengthAdjust="spacingAndGlyphs">Fold Change (log<tspan font-size="5.5" dy="2">2</tspan><tspan dy="-2">) </tspan><tspan font-style="italic">shRP</tspan>/Control</text>
<rect x="324.60" y="247.20" width="9.00" height="8.80" fill="#4054b5" stroke="#333" stroke-width="0.7"/>
<rect x="324.60" y="256.00" width="9.00" height="8.80" fill="#d9252e" stroke="#333" stroke-width="0.7"/>
<text x="336.10" y="255.30" font-size="9.6" fill="#222" textLength="19.30" lengthAdjust="spacingAndGlyphs">RNA</text>
<text x="336.10" y="264.90" font-size="8.96" fill="#222" textLength="10.90" lengthAdjust="spacingAndGlyphs">TE</text>
<text x="302.90" y="292.40" font-size="13.8" fill="#111" textLength="10.10" lengthAdjust="spacingAndGlyphs">C</text>
<line x1="356.20" y1="285.60" x2="356.20" y2="394.40" stroke="#222" stroke-width="1.2"/>
<line x1="355.60" y1="394.00" x2="510.20" y2="394.00" stroke="#222" stroke-width="1.2"/>
<line x1="356.20" y1="389.40" x2="359.20" y2="389.40" stroke="#222" stroke-width="1"/>
<text x="347.60" y="392.40" font-size="9.0" fill="#222" text-anchor="end">0</text>
<line x1="356.20" y1="364.40" x2="359.20" y2="364.40" stroke="#222" stroke-width="1"/>
<text x="351.20" y="367.40" font-size="9.0" fill="#222" text-anchor="end">0.25</text>
<line x1="356.20" y1="339.40" x2="359.20" y2="339.40" stroke="#222" stroke-width="1"/>
<text x="351.20" y="342.40" font-size="9.0" fill="#222" text-anchor="end">0.50</text>
<line x1="356.20" y1="314.40" x2="359.20" y2="314.40" stroke="#222" stroke-width="1"/>
<text x="351.20" y="317.40" font-size="9.0" fill="#222" text-anchor="end">0.75</text>
<text x="322.20" y="371.40" font-size="9.47" fill="#222" textLength="67.40" lengthAdjust="spacingAndGlyphs" transform="rotate(-90 322.2 371.4)">Rho Distribution</text>
<line x1="378.00" y1="289.70" x2="378.00" y2="358.40" stroke="#444" stroke-width="1.2"/>
<line x1="378.00" y1="382.20" x2="378.00" y2="389.50" stroke="#444" stroke-width="1.2"/>
<rect x="372.30" y="358.40" width="11.40" height="23.80" fill="#b5d8ea" stroke="#333" stroke-width="0.9"/>
<line x1="372.30" y1="372.40" x2="383.70" y2="372.40" stroke="#222" stroke-width="1.6"/>
<line x1="378.00" y1="394.00" x2="378.00" y2="391.40" stroke="#222" stroke-width="1"/>
<line x1="414.50" y1="294.60" x2="414.50" y2="336.10" stroke="#444" stroke-width="1.2"/>
<line x1="414.50" y1="373.00" x2="414.50" y2="389.50" stroke="#444" stroke-width="1.2"/>
<rect x="408.80" y="336.10" width="11.40" height="36.90" fill="#d02638" stroke="#333" stroke-width="0.9"/>
<line x1="408.80" y1="355.10" x2="420.20" y2="355.10" stroke="#222" stroke-width="1.6"/>
<line x1="414.50" y1="394.00" x2="414.50" y2="391.40" stroke="#222" stroke-width="1"/>
<line x1="451.50" y1="291.30" x2="451.50" y2="355.10" stroke="#444" stroke-width="1.2"/>
<line x1="451.50" y1="380.60" x2="451.50" y2="389.50" stroke="#444" stroke-width="1.2"/>
<rect x="445.80" y="355.10" width="11.40" height="25.50" fill="#b5d8ea" stroke="#333" stroke-width="0.9"/>
<line x1="445.80" y1="370.10" x2="457.20" y2="370.10" stroke="#222" stroke-width="1.6"/>
<line x1="451.50" y1="394.00" x2="451.50" y2="391.40" stroke="#222" stroke-width="1"/>
<line x1="488.00" y1="294.00" x2="488.00" y2="346.90" stroke="#444" stroke-width="1.2"/>
<line x1="488.00" y1="377.00" x2="488.00" y2="389.50" stroke="#444" stroke-width="1.2"/>
<rect x="482.30" y="346.90" width="11.40" height="30.10" fill="#d02638" stroke="#333" stroke-width="0.9"/>
<line x1="482.30" y1="363.60" x2="493.70" y2="363.60" stroke="#222" stroke-width="1.6"/>
<line x1="488.00" y1="394.00" x2="488.00" y2="391.40" stroke="#222" stroke-width="1"/>
<text x="380.60" y="398.70" font-size="9.01" fill="#222" text-anchor="end" textLength="34.30" lengthAdjust="spacingAndGlyphs" transform="rotate(-90 380.3 398.7)">All−RNA</text>
<text x="416.50" y="398.70" font-size="9.05" fill="#222" text-anchor="end" textLength="65.40" lengthAdjust="spacingAndGlyphs" transform="rotate(-90 416.2 398.7)">Ribo−Mito−RNA</text>
<text x="451.80" y="398.70" font-size="9.15" fill="#222" text-anchor="end" textLength="27.20" lengthAdjust="spacingAndGlyphs" transform="rotate(-90 451.5 398.7)">All−TE</text>
<text x="491.70" y="398.70" font-size="9.01" fill="#222" text-anchor="end" textLength="57.60" lengthAdjust="spacingAndGlyphs" transform="rotate(-90 491.4 398.7)">Ribo−Mito−TE</text>
<text x="301.60" y="487.30" font-size="14.5" fill="#111" textLength="9.40" lengthAdjust="spacingAndGlyphs">D</text>
<text x="329.80" y="477.30" font-size="9.25" fill="#222" text-anchor="end" textLength="176.70" lengthAdjust="spacingAndGlyphs" transform="rotate(-90 329.8 477.3)">Normalized transcript  levels relative to GAPDH</text>
<text x="334.70" y="500.10" font-size="9.63" fill="#222" textLength="39.90" lengthAdjust="spacingAndGlyphs">transcript:</text>
<text x="378.10" y="500.10" font-size="8.8" fill="#222" font-style="italic" textLength="27.90" lengthAdjust="spacingAndGlyphs">RPS10</text>
<line x1="375.80" y1="503.00" x2="401.20" y2="503.00" stroke="#333" stroke-width="1.0"/>
<text x="409.80" y="500.10" font-size="8.8" fill="#222" font-style="italic" textLength="32.30" lengthAdjust="spacingAndGlyphs">RPL35A</text>
<line x1="413.80" y1="503.00" x2="439.20" y2="503.00" stroke="#333" stroke-width="1.0"/>
<text x="451.60" y="500.10" font-size="8.8" fill="#222" font-style="italic" textLength="21.70" lengthAdjust="spacingAndGlyphs">RPL5</text>
<line x1="447.30" y1="503.00" x2="472.40" y2="503.00" stroke="#333" stroke-width="1.0"/>
<text x="482.50" y="500.10" font-size="8.8" fill="#222" font-style="italic" textLength="28.30" lengthAdjust="spacingAndGlyphs">RPS23</text>
<line x1="485.40" y1="503.00" x2="511.30" y2="503.00" stroke="#333" stroke-width="1.0"/>
<line x1="370.00" y1="507.00" x2="370.00" y2="607.90" stroke="#555" stroke-width="1.4"/>
<line x1="370.00" y1="605.60" x2="372.80" y2="605.60" stroke="#333" stroke-width="0.9"/>
<text x="368.60" y="607.60" font-size="5.8" fill="#222" text-anchor="end">0</text>
<line x1="370.00" y1="566.65" x2="372.80" y2="566.65" stroke="#333" stroke-width="0.9"/>
<text x="368.60" y="568.65" font-size="5.8" fill="#222" text-anchor="end">0.5</text>
<line x1="370.00" y1="527.70" x2="372.80" y2="527.70" stroke="#333" stroke-width="0.9"/>
<text x="368.60" y="529.70" font-size="5.8" fill="#222" text-anchor="end">1</text>
<line x1="370.40" y1="611.10" x2="518.00" y2="611.10" stroke="#222" stroke-width="1.2"/>
<rect x="376.00" y="556.68" width="9.50" height="49.82" fill="#8ab3e0" stroke="#222" stroke-width="0.9"/>
<line x1="380.75" y1="549.40" x2="380.75" y2="563.20" stroke="#333" stroke-width="1"/>
<line x1="378.95" y1="549.40" x2="382.55" y2="549.40" stroke="#333" stroke-width="1"/>
<line x1="378.95" y1="563.20" x2="382.55" y2="563.20" stroke="#333" stroke-width="1"/>
<line x1="380.75" y1="611.10" x2="380.75" y2="609.20" stroke="#333" stroke-width="0.8"/>
<rect x="393.80" y="526.53" width="9.90" height="79.97" fill="#ffffff" stroke="#222" stroke-width="0.9"/>
<line x1="398.75" y1="506.00" x2="398.75" y2="546.30" stroke="#333" stroke-width="1"/>
<line x1="396.95" y1="506.00" x2="400.55" y2="506.00" stroke="#333" stroke-width="1"/>
<line x1="396.95" y1="546.30" x2="400.55" y2="546.30" stroke="#333" stroke-width="1"/>
<line x1="398.75" y1="611.10" x2="398.75" y2="609.20" stroke="#333" stroke-width="0.8"/>
<rect x="411.70" y="563.53" width="9.80" height="42.97" fill="#78a585" stroke="#222" stroke-width="0.9"/>
<line x1="416.60" y1="542.30" x2="416.60" y2="583.80" stroke="#333" stroke-width="1"/>
<line x1="414.80" y1="542.30" x2="418.40" y2="542.30" stroke="#333" stroke-width="1"/>
<line x1="414.80" y1="583.80" x2="418.40" y2="583.80" stroke="#333" stroke-width="1"/>
<line x1="416.60" y1="611.10" x2="416.60" y2="609.20" stroke="#333" stroke-width="0.8"/>
<rect x="430.20" y="526.53" width="9.80" height="79.97" fill="#ffffff" stroke="#222" stroke-width="0.9"/>
<line x1="435.10" y1="509.00" x2="435.10" y2="544.80" stroke="#333" stroke-width="1"/>
<line x1="433.30" y1="509.00" x2="436.90" y2="509.00" stroke="#333" stroke-width="1"/>
<line x1="433.30" y1="544.80" x2="436.90" y2="544.80" stroke="#333" stroke-width="1"/>
<line x1="435.10" y1="611.10" x2="435.10" y2="609.20" stroke="#333" stroke-width="0.8"/>
<rect x="448.30" y="564.31" width="9.50" height="42.19" fill="#f3c684" stroke="#222" stroke-width="0.9"/>
<line x1="453.05" y1="552.20" x2="453.05" y2="577.10" stroke="#333" stroke-width="1"/>
<line x1="451.25" y1="552.20" x2="454.85" y2="552.20" stroke="#333" stroke-width="1"/>
<line x1="451.25" y1="577.10" x2="454.85" y2="577.10" stroke="#333" stroke-width="1"/>
<line x1="453.05" y1="611.10" x2="453.05" y2="609.20" stroke="#333" stroke-width="0.8"/>
<rect x="466.20" y="527.31" width="9.80" height="79.19" fill="#ffffff" stroke="#222" stroke-width="0.9"/>
<line x1="471.10" y1="512.20" x2="471.10" y2="541.70" stroke="#333" stroke-width="1"/>
<line x1="469.30" y1="512.20" x2="472.90" y2="512.20" stroke="#333" stroke-width="1"/>
<line x1="469.30" y1="541.70" x2="472.90" y2="541.70" stroke="#333" stroke-width="1"/>
<line x1="471.10" y1="611.10" x2="471.10" y2="609.20" stroke="#333" stroke-width="0.8"/>
<rect x="484.00" y="565.48" width="9.80" height="41.02" fill="#e2808a" stroke="#222" stroke-width="0.9"/>
<line x1="488.90" y1="560.20" x2="488.90" y2="570.60" stroke="#333" stroke-width="1"/>
<line x1="487.10" y1="560.20" x2="490.70" y2="560.20" stroke="#333" stroke-width="1"/>
<line x1="487.10" y1="570.60" x2="490.70" y2="570.60" stroke="#333" stroke-width="1"/>
<line x1="488.90" y1="611.10" x2="488.90" y2="609.20" stroke="#333" stroke-width="0.8"/>
<rect x="502.20" y="527.70" width="9.80" height="78.80" fill="#ffffff" stroke="#222" stroke-width="0.9"/>
<line x1="507.10" y1="518.30" x2="507.10" y2="537.70" stroke="#333" stroke-width="1"/>
<line x1="505.30" y1="518.30" x2="508.90" y2="518.30" stroke="#333" stroke-width="1"/>
<line x1="505.30" y1="537.70" x2="508.90" y2="537.70" stroke="#333" stroke-width="1"/>
<line x1="507.10" y1="611.10" x2="507.10" y2="609.20" stroke="#333" stroke-width="0.8"/>
<text x="339.50" y="623.50" font-size="8.84" fill="#222" textLength="27.50" lengthAdjust="spacingAndGlyphs">siRNA:</text>
<text x="383.40" y="618.30" font-size="9.37" fill="#3a4aae" text-anchor="end" font-style="italic" textLength="29.70" lengthAdjust="spacingAndGlyphs" transform="rotate(-90 383.4 618.3)">RPS10</text>
<text x="400.30" y="618.30" font-size="9.2" fill="#222" text-anchor="end" textLength="40.40" lengthAdjust="spacingAndGlyphs" transform="rotate(-90 400.3 618.3)">Nontarget</text>
<text x="417.60" y="618.30" font-size="9.5" fill="#3f7a4c" text-anchor="end" font-style="italic" textLength="34.60" lengthAdjust="spacingAndGlyphs" transform="rotate(-90 417.6 618.3)">RPL35a</text>
<text x="437.40" y="618.30" font-size="9.2" fill="#222" text-anchor="end" textLength="40.40" lengthAdjust="spacingAndGlyphs" transform="rotate(-90 437.4 618.3)">Nontarget</text>
<text x="454.70" y="618.30" font-size="9.19" fill="#eda33a" text-anchor="end" font-style="italic" textLength="23.00" lengthAdjust="spacingAndGlyphs" transform="rotate(-90 454.7 618.3)">RPL5</text>
<text x="472.60" y="618.30" font-size="9.2" fill="#222" text-anchor="end" textLength="40.40" lengthAdjust="spacingAndGlyphs" transform="rotate(-90 472.6 618.3)">Nontarget</text>
<text x="490.70" y="618.30" font-size="9.28" fill="#d8262e" text-anchor="end" font-style="italic" textLength="29.40" lengthAdjust="spacingAndGlyphs" transform="rotate(-90 490.7 618.3)">RPS23</text>
<text x="508.60" y="618.30" font-size="9.2" fill="#222" text-anchor="end" textLength="40.40" lengthAdjust="spacingAndGlyphs" transform="rotate(-90 508.6 618.3)">Nontarget</text>
</svg></body></html>
